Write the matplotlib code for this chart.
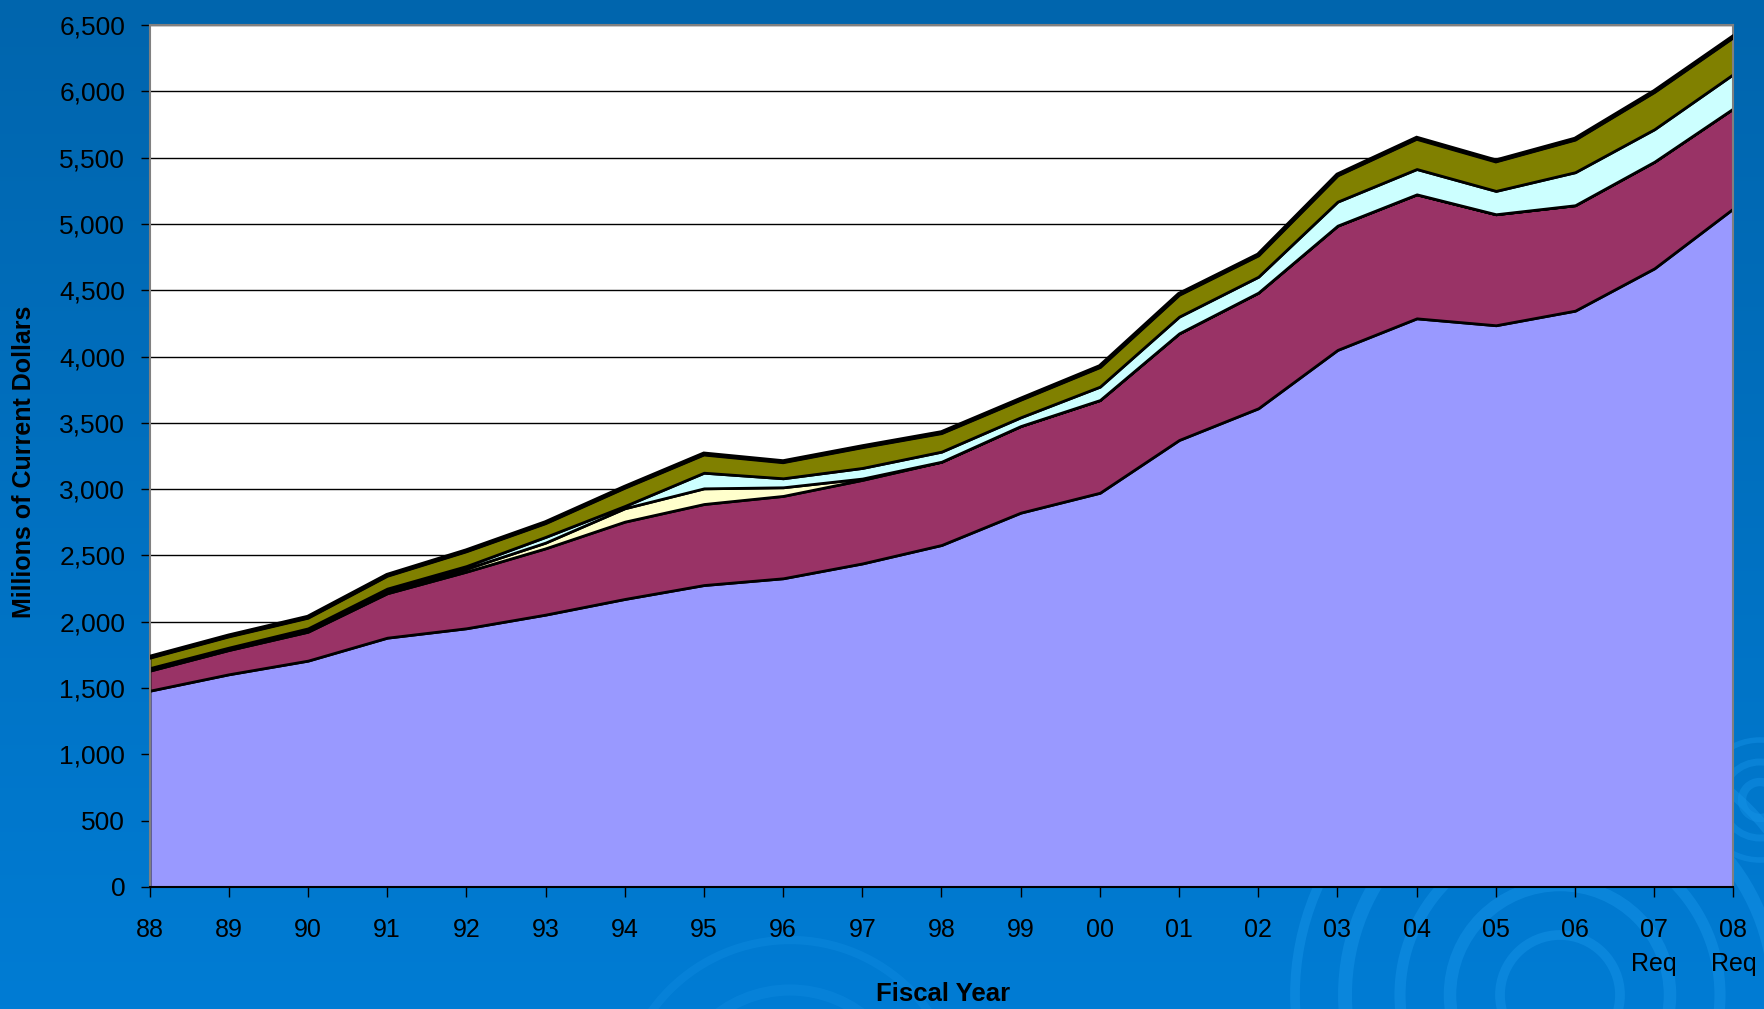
import matplotlib
matplotlib.use("Agg")
import matplotlib.pyplot as plt
import numpy as np
from matplotlib.patches import Circle

# fiscal years on the category axis
years = ["88", "89", "90", "91", "92", "93", "94", "95", "96", "97", "98",
         "99", "00", "01", "02", "03", "04", "05", "06", "07\nReq", "08\nReq"]

# stacked series, millions of current dollars
base = [1480, 1604, 1707, 1880, 1951, 2054, 2172, 2277, 2328, 2440, 2579,
        2823, 2973, 3371, 3610, 4050, 4288, 4236, 4346, 4665, 5118]
maroon = [151, 183, 218, 335, 427, 500, 583, 611, 621, 630, 628,
          653, 699, 804, 872, 937, 935, 837, 795, 804, 754]
yellow = [9, 8, 10, 20, 22, 43, 101, 118, 65, 10, 0,
          0, 0, 0, 0, 0, 0, 0, 0, 0, 0]
cyan = [10, 10, 15, 15, 20, 43, 17, 118, 68, 80, 76,
        66, 101, 126, 120, 181, 191, 176, 249, 245, 259]
olive = [82, 88, 84, 100, 115, 107, 141, 141, 125, 160, 143,
         136, 151, 168, 164, 201, 232, 226, 249, 284, 281]

y_ticks = list(range(0, 6501, 500))

colors = ["#9999FF", "#993366", "#FFFFCC", "#CCFFFF", "#808000"]

plt.rcParams["font.family"] = ["Liberation Sans", "DejaVu Sans"]

W, H = 1765, 1009
fig = plt.figure(figsize=(W / 100, H / 100), dpi=100)

# background: blue gradient with faint swirls
bg = fig.add_axes([0, 0, 1, 1], zorder=-10)
grad = np.linspace(0, 1, 256).reshape(-1, 1)
top_c = np.array([0, 101, 173]) / 255
bot_c = np.array([0, 124, 212]) / 255
img = top_c + (bot_c - top_c) * grad[..., None]
img = np.repeat(img, 2, axis=1)
bg.imshow(img, extent=(0, W, H, 0), aspect="auto")
swirl = "#1592E6"
for r, lw in [(60, 7), (110, 9), (160, 8), (215, 10), (265, 7)]:
    bg.add_patch(Circle((1560, 995), r, fill=False, ec=swirl, lw=lw, alpha=0.5))
for r, lw in [(18, 6), (38, 5), (60, 4)]:
    bg.add_patch(Circle((1760, 800), r, fill=False, ec=swirl, lw=lw, alpha=0.45))
for r, lw in [(120, 8), (170, 6)]:
    bg.add_patch(Circle((790, 1110), r, fill=False, ec=swirl, lw=lw, alpha=0.3))
bg.set_xlim(0, W)
bg.set_ylim(H, 0)
bg.axis("off")

ax = fig.add_axes([149.5 / W, 1 - 887 / H, (1733.5 - 149.5) / W, (887 - 25) / H])
ax.set_facecolor("white")

x = np.arange(len(years))
layers = [base, maroon, yellow, cyan, olive]
bottom = np.zeros(len(years))
for vals, col in zip(layers, colors):
    top = bottom + np.array(vals)
    ax.fill_between(x, bottom, top, facecolor=col, edgecolor="black", linewidth=2, zorder=2)
    bottom = top
ax.plot(x, bottom, color="black", linewidth=3.5, zorder=3, solid_joinstyle="miter")

ax.set_xlim(0, len(years) - 1)
ax.set_ylim(0, 6500)
ax.set_yticks(y_ticks)
ax.set_yticklabels([f"{v:,}" for v in y_ticks])
ax.set_xticks(x)
ax.set_xticklabels(years, linespacing=1.5)
ax.yaxis.grid(True, color="black", linewidth=1)
ax.set_axisbelow(True)

ax.tick_params(axis="y", direction="out", length=6.5, width=1, pad=11, labelsize=19, colors="black")
ax.tick_params(axis="x", direction="out", length=7.5, width=1, pad=15, labelsize=18, colors="black")

for side in ["left", "top", "right"]:
    ax.spines[side].set_color("#808080")
    ax.spines[side].set_linewidth(1.5)
ax.spines["bottom"].set_color("black")
ax.spines["bottom"].set_linewidth(1.5)

fig.text(24 / W, 1 - 462 / H, "Millions of Current Dollars", rotation=90,
         ha="center", va="center", fontsize=18, fontweight="bold", color="black")
fig.text(943 / W, 1 - 994 / H, "Fiscal Year", ha="center", va="center",
         fontsize=18.5, fontweight="bold", color="black")

fig.savefig("out.png", dpi=100)
